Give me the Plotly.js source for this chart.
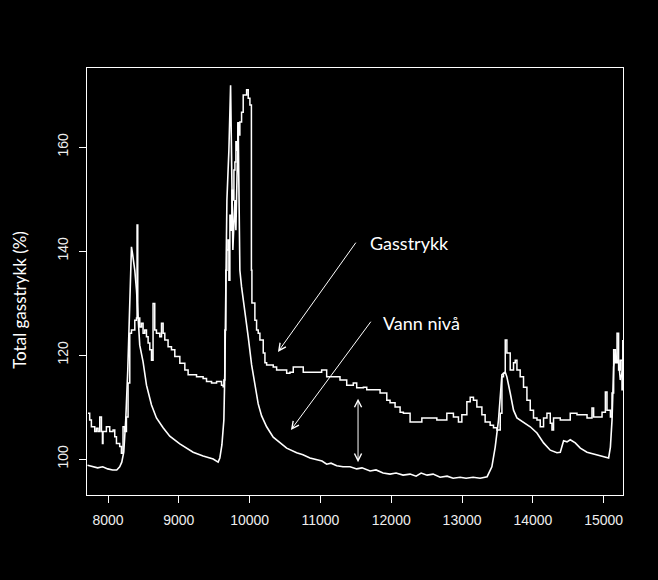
<!DOCTYPE html>
<html><head><meta charset="utf-8">
<script src="https://cdn.plot.ly/plotly-3.0.1.min.js"></script>
<style>html,body{margin:0;padding:0;background:#000;}#chart{width:658px;height:580px;}</style>
</head><body><div id="chart"></div>
<script>
const xTicks = [8000, 9000, 10000, 11000, 12000, 13000, 14000, 15000];
const yTicks = [100, 120, 140, 160];
const yTitle = 'Total gasstrykk (%)';
const labelGas = 'Gasstrykk';
const labelVann = 'Vann nivå';

const vannX = [7710,7784,7854,7925,7996,8066,8123,8165,8194,8222,8250,8279,8307,8331,8349,8378,8402,8424,8448,8495,8543,8614,8684,8778,8872,9014,9109,9202,9343,9485,9555,9579,9608,9636,9650,9664,9679,9707,9731,9749,9763,9792,9806,9838,9848,9862,9886,9933,9980,10028,10074,10121,10169,10240,10333,10428,10523,
10664,10753,10852,10947,11022,11088,11149,11230,11319,11418,11512,11587,11701,11785,11884,11983,12068,12167,12266,12351,12422,12506,12591,12690,12789,12874,12973,13057,13156,13255,13354,
13421,13468,13515,13549,13563,13610,13633,13680,13727,13775,13868,13963,14058,14151,14246,14340,14387,14434,14482,14528,14599,14670,14765,14858,14953,15070,15095,15118,15141,15165,15189,15211,15235,15259,15270];
const vannY = [98.8,98.5,98.3,98.5,98.1,97.9,97.9,98.5,99.4,101.3,107.5,117.1,132.5,140.8,139.2,136.3,132.5,126.7,121.9,118.7,114.2,110.4,107.9,106.0,104.4,102.9,102.1,101.3,100.6,100.0,99.4,100.2,102.7,107.5,117.1,140.2,149.8,159.4,171.9,153.7,140.2,149.8,144.0,164.8,149.8,136.3,133.1,128.7,123.5,118.1,114.2,110.6,108.3,106.2,104.2,103.1,102.1,
101.2,100.8,100.2,99.8,99.6,99.0,99.2,98.7,98.5,98.5,98.1,98.3,97.7,97.9,97.3,97.1,97.3,96.9,97.1,96.7,97.3,96.9,97.1,96.5,96.7,96.3,96.5,96.3,96.5,96.3,96.6,
98.5,102.3,107.5,113.8,116.2,116.7,115.8,112.7,109.4,107.9,107.1,106.2,105.0,103.1,101.7,101.2,101.3,103.5,103.3,103.7,103.1,102.1,101.3,101.0,100.6,100.2,102.3,107.5,117.7,121.0,118.5,119.0,115.2,116.5,117.1];

const gasX = [7717,7741,7765,7812,7836,7859,7883,7907,7921,7929,7977,8024,8071,8095,8119,8165,8189,8212,8236,8260,8283,8307,8331,8378,8402,8410,8420,8448,8472,8495,8519,8543,8566,8590,8614,8636,8660,8684,8731,8755,8778,8802,8848,8896,8943,9014,9085,9131,9250,9343,9391,9462,9533,9603,9626,
9636,9650,9664,9679,9693,9707,9721,9735,9749,9763,9778,9792,9806,9820,9834,9848,9862,9886,9909,9933,9957,9980,10004,10018,10025,10032,10074,10098,10121,10145,10192,
10216,10240,10333,10381,10475,10523,10569,10616,10711,10757,10947,11017,11088,11182,11276,11371,11464,11512,11559,11606,11654,11747,11842,11937,11983,12054,12125,12171,12266,12408,12432,12596,12644,12785,12878,12949,12997,13068,13115,13161,13209,13280,13326,13397,13444,13492,13515,13539,13563,13585,13610,13633,13680,13727,13751,13775,13821,13868,13916,13963,14009,14058,14104,14151,14199,14246,14270,14292,14387,14482,14528,14623,14765,14835,14858,14977,15024,15047,15095,15118,15141,15165,15189,15211,15235,15259,15270];
const gasY = [108.8,107.5,106.2,105.3,105.9,105.3,108.1,105.3,103.0,105.3,106.2,105.3,105.6,104.3,103.0,102.4,101.1,106.2,105.3,108.1,114.6,124.2,124.8,126.7,127.1,145.0,127.1,125.4,126.1,124.2,124.8,123.5,122.3,121.0,119.0,129.9,124.8,124.2,123.5,126.1,124.2,122.9,121.6,121.0,119.7,118.4,117.1,116.2,115.8,115.5,114.9,114.6,114.9,114.2,113.9,
115.2,124.8,136.3,140.2,142.1,134.4,146.9,144.0,151.7,149.8,155.6,157.1,161.0,159.4,164.6,162.3,164.8,166.7,170.0,170.0,171.0,169.4,168.1,168.1,136.3,130.0,126.7,124.8,124.2,122.9,120.4,
118.5,118.1,117.7,117.1,117.1,116.5,116.7,117.7,117.7,116.7,116.7,117.1,115.8,115.8,115.2,114.2,114.6,113.7,113.7,113.8,113.3,113.3,112.7,111.3,110.8,110.0,109.0,108.8,107.1,107.1,107.9,107.9,107.5,108.8,108.1,107.1,108.5,111.0,111.9,111.3,110.0,108.5,107.1,106.5,106.0,105.6,105.6,108.8,115.8,116.5,122.9,120.4,117.1,118.5,119.0,117.1,115.8,113.8,111.3,109.4,107.9,107.5,106.2,107.9,108.8,106.9,105.6,107.9,107.5,107.5,108.8,108.5,107.9,109.8,108.1,109.0,112.9,109.4,108.1,112.7,121.0,118.5,124.2,117.1,119.0,113.3,122.9];

// annotation anchor points (data units)
const gasArrow = {tail: [11515, 141.9], head: [10400, 120.6], label: [11672, 141.5]};
const vannArrow = {tail: [11727, 126.7], head: [10583, 105.6], label: [11856, 126.2]};
const gapArrow = {x: 11531, top: 111.9, bottom: 99.4};

const traces = [
  {x: gasX, y: gasY, type: 'scatter', mode: 'lines', line: {color: '#ffffff', width: 1.5, shape: 'hv'}, name: labelGas, hoverinfo: 'skip'},
  {x: vannX, y: vannY, type: 'scatter', mode: 'lines', line: {color: '#ffffff', width: 1.6}, name: labelVann, hoverinfo: 'skip'}
];

const tickFont = {family: 'Liberation Sans, Arial, sans-serif', size: 14, color: '#eeeeee'};
const textFont = {family: 'Lato, Open Sans, sans-serif', size: 18, color: '#ffffff'};

const layout = {
  width: 658, height: 580,
  paper_bgcolor: '#000000', plot_bgcolor: '#000000',
  margin: {l: 87, r: 35, t: 68, b: 85},
  showlegend: false,
  xaxis: {range: [7703, 15273], tickvals: xTicks, ticktext: xTicks.map(String), ticks: 'outside', ticklen: 7, tickcolor: '#ffffff', tickwidth: 1,
    showline: true, mirror: true, linecolor: '#ffffff', linewidth: 1, showgrid: false, zeroline: false, tickfont: tickFont, ticklabelstandoff: 5},
  yaxis: {range: [93.08, 175.2], tickvals: yTicks, ticktext: yTicks.map(String), tickangle: -90, ticks: 'outside', ticklen: 7, tickcolor: '#ffffff', tickwidth: 1,
    showline: true, mirror: true, linecolor: '#ffffff', linewidth: 1, showgrid: false, zeroline: false, tickfont: tickFont, ticklabelstandoff: 5},
  annotations: [
    {text: yTitle, xref: 'paper', yref: 'paper', x: -0.125, y: 0.457, textangle: -90, showarrow: false, xanchor: 'center', yanchor: 'middle', font: {family: 'Lato, Open Sans, sans-serif', size: 17, color: '#ffffff'}},
    {text: labelGas, xref: 'x', yref: 'y', x: gasArrow.label[0], y: gasArrow.label[1], showarrow: false, xanchor: 'left', yanchor: 'middle', font: textFont},
    {text: labelVann, xref: 'x', yref: 'y', x: vannArrow.label[0], y: vannArrow.label[1], showarrow: false, xanchor: 'left', yanchor: 'middle', font: textFont},
    {text: '', xref: 'x', yref: 'y', axref: 'x', ayref: 'y', x: gasArrow.head[0], y: gasArrow.head[1], ax: gasArrow.tail[0], ay: gasArrow.tail[1], showarrow: true, arrowhead: 5, arrowsize: 1.4, arrowwidth: 1, arrowcolor: '#ffffff'},
    {text: '', xref: 'x', yref: 'y', axref: 'x', ayref: 'y', x: vannArrow.head[0], y: vannArrow.head[1], ax: vannArrow.tail[0], ay: vannArrow.tail[1], showarrow: true, arrowhead: 5, arrowsize: 1.4, arrowwidth: 1, arrowcolor: '#ffffff'},
    {text: '', xref: 'x', yref: 'y', axref: 'x', ayref: 'y', x: gapArrow.x, y: gapArrow.bottom, ax: gapArrow.x, ay: gapArrow.top, showarrow: true, arrowhead: 5, startarrowhead: 5, arrowside: 'end+start', arrowsize: 1.4, startarrowsize: 1.4, arrowwidth: 1, arrowcolor: '#ffffff'}
  ]
};

Plotly.newPlot('chart', traces, layout, {displayModeBar: false, staticPlot: true});
</script>
</body></html>
